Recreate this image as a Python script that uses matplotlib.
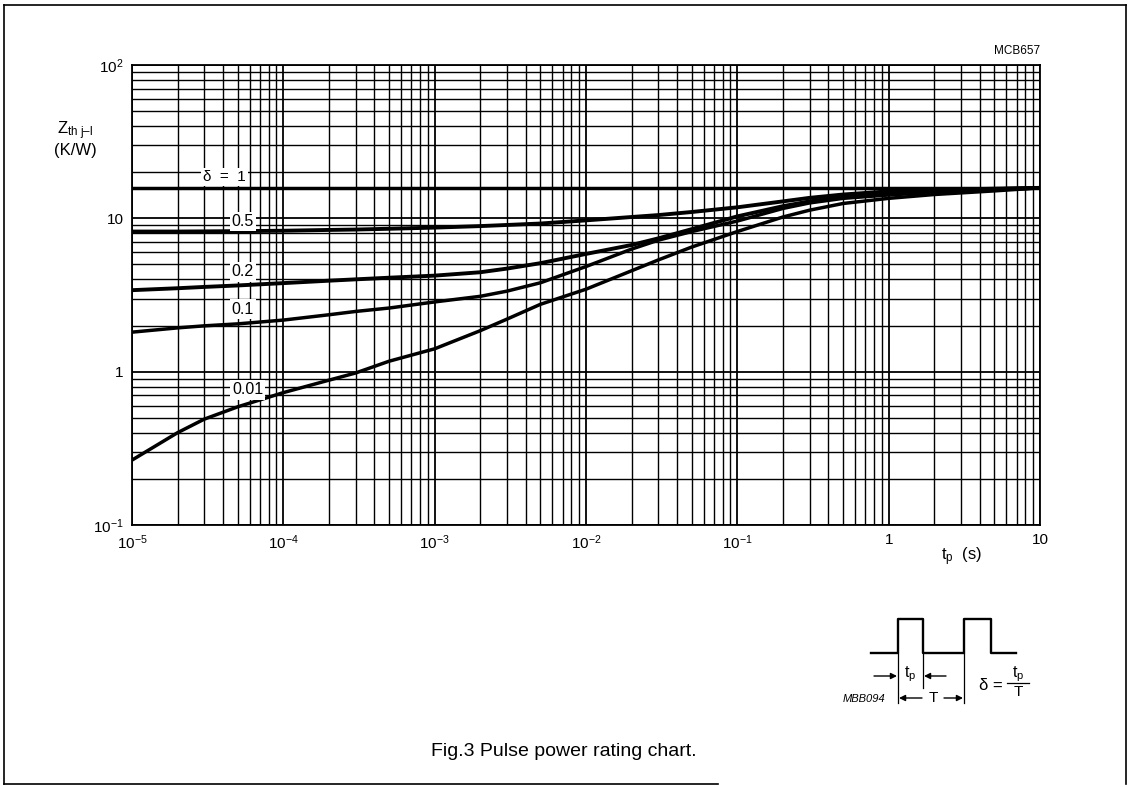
import matplotlib
matplotlib.use("Agg")
import matplotlib.pyplot as plt
import numpy as np
from matplotlib.ticker import FixedLocator, FixedFormatter, LogLocator, NullFormatter

plt.rcParams['font.family'] = ['Liberation Sans', 'DejaVu Sans']
plt.rcParams['mathtext.fontset'] = 'custom'
plt.rcParams['mathtext.rm'] = 'Liberation Sans'
plt.rcParams['mathtext.it'] = 'Liberation Sans:italic'
plt.rcParams['mathtext.bf'] = 'Liberation Sans:bold'

# ---- data ----
tp = [1e-5, 2e-5, 3e-5, 5e-5, 1e-4, 2e-4, 3e-4, 5e-4, 1e-3, 2e-3, 3e-3, 5e-3,
      1e-2, 2e-2, 3e-2, 5e-2, 1e-1, 2e-1, 3e-1, 5e-1, 1, 2, 5, 10]
tp_d1 = [1e-5, 10]
z_d1 = [15.8, 15.8]
z_d05 = [8.2, 8.2, 8.22, 8.25, 8.3, 8.4, 8.45, 8.55, 8.7, 8.9, 9.05, 9.25,
         9.7, 10.2, 10.5, 11.0, 11.8, 12.9, 13.6, 14.3, 15.0, 15.3, 15.6, 15.8]
z_d02 = [3.4, 3.5, 3.57, 3.65, 3.78, 3.92, 4.0, 4.1, 4.23, 4.45, 4.7, 5.1,
         5.86, 6.7, 7.4, 8.5, 10.3, 12.0, 12.9, 13.8, 14.5, 15.0, 15.5, 15.8]
z_d01 = [1.81, 1.93, 1.99, 2.05, 2.17, 2.35, 2.47, 2.6, 2.85, 3.1, 3.35, 3.8,
         4.85, 6.3, 7.2, 8.2, 9.6, 11.6, 12.6, 13.5, 14.2, 14.8, 15.4, 15.8]
z_d001 = [0.265, 0.4, 0.49, 0.59, 0.73, 0.88, 0.98, 1.17, 1.41, 1.85, 2.2, 2.75,
          3.45, 4.55, 5.35, 6.5, 8.2, 10.2, 11.3, 12.5, 13.5, 14.3, 15.1, 15.8]

xtick_vals = [1e-5, 1e-4, 1e-3, 1e-2, 1e-1, 1, 10]
xtick_labels = ['10$^{-5}$', '10$^{-4}$', '10$^{-3}$', '10$^{-2}$', '10$^{-1}$', '1', '10']
ytick_vals = [0.1, 1, 10, 100]
ytick_labels = ['10$^{-1}$', '1', '10', '10$^{2}$']

W, H = 1132, 787
fig = plt.figure(figsize=(W / 100, H / 100), dpi=100)
ax = fig.add_axes([132 / W, 1 - 525 / H, (1040 - 132) / W, (525 - 65) / H])
ax.set_xscale('log')
ax.set_yscale('log')
ax.set_xlim(1e-5, 10)
ax.set_ylim(0.1, 100)

ax.xaxis.set_major_locator(FixedLocator(xtick_vals))
ax.xaxis.set_major_formatter(FixedFormatter(xtick_labels))
ax.yaxis.set_major_locator(FixedLocator(ytick_vals))
ax.yaxis.set_major_formatter(FixedFormatter(ytick_labels))
ax.xaxis.set_minor_locator(LogLocator(base=10, subs=np.arange(2, 10)))
ax.yaxis.set_minor_locator(LogLocator(base=10, subs=np.arange(2, 10)))
ax.xaxis.set_minor_formatter(NullFormatter())
ax.yaxis.set_minor_formatter(NullFormatter())
ax.grid(True, which='major', color='black', lw=1.3)
ax.grid(True, which='minor', color='black', lw=1.0)
ax.tick_params(which='both', length=0, labelsize=11)
ax.tick_params(axis='x', pad=6)
ax.tick_params(axis='y', pad=6)
for s in ax.spines.values():
    s.set_linewidth(1.3)

lw = 2.5
ax.plot(tp_d1, z_d1, color='black', lw=lw, zorder=3)
ax.plot(tp, z_d05, color='black', lw=lw + 0.3, zorder=3)
ax.plot(tp, z_d02, color='black', lw=lw + 0.3, zorder=3)
ax.plot(tp, z_d01, color='black', lw=lw, zorder=3)
ax.plot(tp, z_d001, color='black', lw=lw, zorder=3)

bb = dict(facecolor='white', edgecolor='none', pad=1.5)
ax.text(4.1e-5, 18.6, 'δ  =  1', fontsize=11, ha='center', va='center', bbox=bb, zorder=4)
ax.text(5.4e-5, 9.5, '0.5', fontsize=11.5, ha='center', va='center', bbox=bb, zorder=4)
ax.text(5.4e-5, 4.47, '0.2', fontsize=11.5, ha='center', va='center', bbox=bb, zorder=4)
ax.text(5.4e-5, 2.56, '0.1', fontsize=11.5, ha='center', va='center', bbox=bb, zorder=4)
ax.text(5.8e-5, 0.76, '0.01', fontsize=11.5, ha='center', va='center', bbox=bb, zorder=4)

# ---- overlay in pixel coordinates ----
ov = fig.add_axes([0, 0, 1, 1])
ov.set_xlim(0, W)
ov.set_ylim(H, 0)
ov.axis('off')
ov.patch.set_alpha(0)

# border
ov.plot([4, 4], [5, 784], color='black', lw=1.2)
ov.plot([1126, 1126], [5, 784], color='black', lw=1.2)
ov.plot([4, 1126], [5, 5], color='black', lw=1.2)
ov.plot([4, 718], [784, 784], color='black', lw=1.2)

ov.text(1040, 51, 'MCB657', fontsize=8.5, ha='right', va='center')
ov.text(75, 131, r'Z$_{\mathrm{th\ j–l}}$', fontsize=12, ha='center', va='center')
ov.text(75, 151, '(K/W)', fontsize=12, ha='center', va='center')
ov.text(962, 557, r't$_{\mathrm{p}}$  (s)', fontsize=12, ha='center', va='center')
ov.text(564, 752, 'Fig.3 Pulse power rating chart.', fontsize=14, ha='center', va='center')

# pulse diagram
px = [871, 898, 898, 923, 923, 964, 964, 991, 991, 1016]
py = [653, 653, 619, 619, 653, 653, 619, 619, 653, 653]
ov.plot(px, py, color='black', lw=1.7)
ov.plot([898, 898], [653, 703], color='black', lw=0.9)
ov.plot([923, 923], [653, 688], color='black', lw=0.9)
ov.plot([964, 964], [653, 703], color='black', lw=0.9)
ap = dict(arrowstyle='-|>', color='black', lw=1.0, mutation_scale=9, shrinkA=0, shrinkB=0)
ov.annotate('', xy=(897, 676), xytext=(874, 676), arrowprops=ap)
ov.annotate('', xy=(924, 676), xytext=(946, 676), arrowprops=ap)
ov.annotate('', xy=(899, 698), xytext=(922, 698), arrowprops=ap)
ov.annotate('', xy=(963, 698), xytext=(944, 698), arrowprops=ap)
ov.text(910, 674, r't$_{\mathrm{p}}$', fontsize=11.5, ha='center', va='center')
ov.text(933, 698, 'T', fontsize=11, ha='center', va='center')
ov.text(864, 699, 'MBB094', fontsize=8, style='italic', ha='center', va='center')
ov.text(991, 686, 'δ =', fontsize=12, ha='center', va='center')
ov.text(1018, 674, r't$_{\mathrm{p}}$', fontsize=11.5, ha='center', va='center')
ov.plot([1007, 1029], [683, 683], color='black', lw=0.9)
ov.text(1018, 692, 'T', fontsize=11, ha='center', va='center')

fig.savefig('out.png', dpi=100)
